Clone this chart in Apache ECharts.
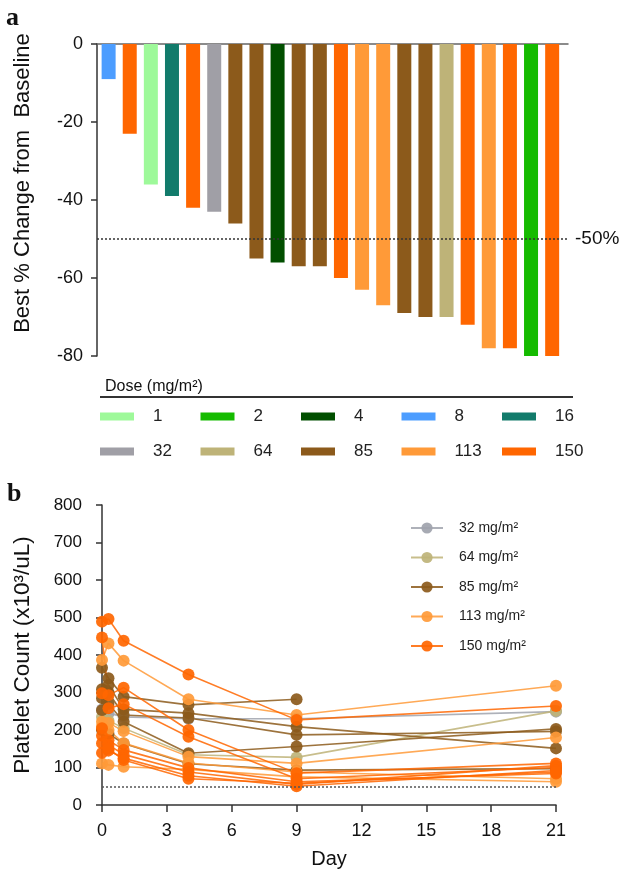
<!DOCTYPE html>
<html><head><meta charset="utf-8">
<script src="https://cdn.jsdelivr.net/npm/echarts@6/dist/echarts.min.js"></script>
<style>html,body{margin:0;padding:0;background:#fff}#c{width:630px;height:873px}</style>
</head><body><div id="c"></div>
<script>
// ---- Panel a data ----
const barDoses  = [8,150,1,16,150,32,85,85,4,85,85,150,113,113,85,85,64,150,113,150,2,150];
const barValues = [-9,-23,-36,-39,-42,-43,-46,-55,-56,-57,-57,-60,-63,-67,-69,-70,-70,-72,-78,-78,-80,-80];
const doseLevels = [1,2,4,8,16,32,64,85,113,150];
const doseColors = ['#9ef99a','#15bb00','#014f00','#4c9dff','#127b6b','#a09fa6','#beb378','#8c5a1b','#ff9a38','#ff6600'];

// ---- Panel b data ----
const days = [0, 0.3, 1, 4, 9, 21];
const plt32  = [[255,245,235,230,230,249]];
const plt64  = [[235,225,205,134,127,251]];
const plt85  = [
  [366,338,289,267,282,null],
  [309,320,255,245,209,151],
  [253,300,240,232,187,196],
  [285,270,222,138,156,203],
  [200,190,164,110,93,97]
];
const plt113 = [
  [387,431,385,282,240,318],
  [222,219,197,129,111,180],
  [111,107,102,95,75,62],
  [210,200,165,112,88,70]
];
const plt150 = [
  [489,496,438,348,227,264],
  [447,293,313,200,85,111],
  [298,258,269,182,70,100],
  [205,173,147,99,62,84],
  [185,160,135,88,55,105],
  [165,145,125,78,50,92],
  [139,150,120,70,58,88]
];
const lineGroups = [[32,plt32,'#a0a3ad'],[64,plt64,'#beb378'],[85,plt85,'#8c5a1b'],[113,plt113,'#ff9a38'],[150,plt150,'#ff6600']];

const FONT = 'Liberation Sans, Arial, sans-serif';
const series = [];
doseLevels.forEach((d,k)=>{
  const data = [];
  barDoses.forEach((bd,i)=>{ if(bd===d) data.push([i, barValues[i]]); });
  const s = {type:'bar', name:String(d), xAxisIndex:0, yAxisIndex:0, barWidth:14, barGap:'-100%',
    itemStyle:{color:doseColors[k]}, data, silent:true};
  if(k===0){
    s.markLine = {silent:true, symbol:'none', data:[{yAxis:-50}],
      lineStyle:{type:[2,2], color:'#333', width:1.5},
      label:{formatter:'-50%', position:'end', fontSize:19, color:'#111', fontFamily:FONT, distance:7}};
  }
  series.push(s);
});
let first = true;
lineGroups.forEach(([dose, rows, col])=>{
  rows.forEach(vals=>{
    const data = [];
    vals.forEach((v,j)=>{ if(v!=null) data.push([days[j], v]); });
    const s = {type:'line', name: dose+' mg/m²', xAxisIndex:1, yAxisIndex:1, data,
      symbol:'circle', symbolSize:12, showSymbol:true,
      lineStyle:{color:col, width:1.6, opacity:0.85}, itemStyle:{color:col, opacity:0.92},
      emphasis:{disabled:true}, silent:true, animation:false};
    if(first){
      first = false;
      s.markLine = {silent:true, symbol:'none', data:[{yAxis:50}], label:{show:false},
        lineStyle:{type:[2,2], color:'#555', width:1.5}};
    }
    series.push(s);
  });
});

// Legend for panel a: 5 columns of 2 rows
const legendCols = [100, 200.5, 301, 401.5, 502];
const legendsA = legendCols.map((x,c)=>({
  left:x, top:406.5, orient:'vertical', itemWidth:34, itemHeight:8, itemGap:15, icon:'rect',
  selectedMode:false, padding:0,
  data:[String(doseLevels[c]), String(doseLevels[c+5])],
  textStyle:{fontSize:17, color:'#222', fontFamily:FONT, lineHeight:20, padding:[0,0,0,14]}
}));
const legendB = {
  left:410, top:519, orient:'vertical', itemWidth:32, itemHeight:14, itemGap:11.5,
  selectedMode:false, padding:0,
  data: lineGroups.map(g=>g[0]+' mg/m²'),
  textStyle:{fontSize:14, color:'#222', fontFamily:FONT, lineHeight:18, padding:[0,0,0,11]}
};

const chart = echarts.init(document.getElementById('c'), null, {renderer:'canvas'});
chart.setOption({
  animation:false,
  textStyle:{fontFamily:FONT},
  title:[
    {text:'a', left:1, top:0, textStyle:{fontFamily:'Liberation Serif, DejaVu Serif, serif', fontWeight:'bold', fontSize:26, color:'#111'}},
    {text:'b', left:2, top:476, textStyle:{fontFamily:'Liberation Serif, DejaVu Serif, serif', fontWeight:'bold', fontSize:26, color:'#111'}},
    {text:'Dose (mg/m²)', left:100, top:374, textStyle:{fontFamily:FONT, fontWeight:'normal', fontSize:16, color:'#111'}}
  ],
  graphic:[{type:'line', shape:{x1:100, y1:397, x2:573, y2:397}, style:{stroke:'#333', lineWidth:2}, silent:true}],
  legend:[...legendsA, legendB],
  grid:[
    {left:97, top:44, width:471, height:312},
    {left:102, top:505, width:454, height:300}
  ],
  xAxis:[
    {gridIndex:0, type:'value', min:-0.55, max:21.75, position:'top',
     axisLine:{show:true, onZero:false, lineStyle:{color:'#666', width:1.5}},
     axisTick:{show:false}, axisLabel:{show:false}, splitLine:{show:false}},
    {gridIndex:1, type:'value', min:0, max:21, interval:3,
     name:'Day', nameLocation:'middle', nameGap:44,
     nameTextStyle:{fontSize:20, color:'#111', fontFamily:FONT},
     axisLine:{onZero:false, lineStyle:{color:'#333', width:1.5}},
     axisTick:{show:true, length:7, lineStyle:{color:'#333', width:1.5}},
     axisLabel:{fontSize:18, color:'#111', margin:17},
     splitLine:{show:false}}
  ],
  yAxis:[
    {gridIndex:0, type:'value', min:-80, max:0, interval:20,
     name:'Best % Change from  Baseline', nameLocation:'middle', nameGap:63,
     nameTextStyle:{fontSize:22, color:'#111', fontFamily:FONT, padding:[0,0,0,34]},
     axisLine:{show:true, onZero:false, lineStyle:{color:'#333', width:1.5}},
     axisTick:{show:true, length:6, lineStyle:{color:'#333', width:1.5}},
     axisLabel:{fontSize:18, color:'#111', margin:14},
     splitLine:{show:false}},
    {gridIndex:1, type:'value', min:0, max:800, interval:100,
     name:'Platelet Count (x10³/uL)', nameLocation:'middle', nameGap:68,
     nameTextStyle:{fontSize:22.5, color:'#111', fontFamily:FONT},
     axisLine:{show:true, onZero:false, lineStyle:{color:'#333', width:1.5}},
     axisTick:{show:true, length:6, lineStyle:{color:'#333', width:1.5}},
     axisLabel:{fontSize:17, color:'#111', margin:20},
     splitLine:{show:false}}
  ],
  series
});
</script></body></html>
